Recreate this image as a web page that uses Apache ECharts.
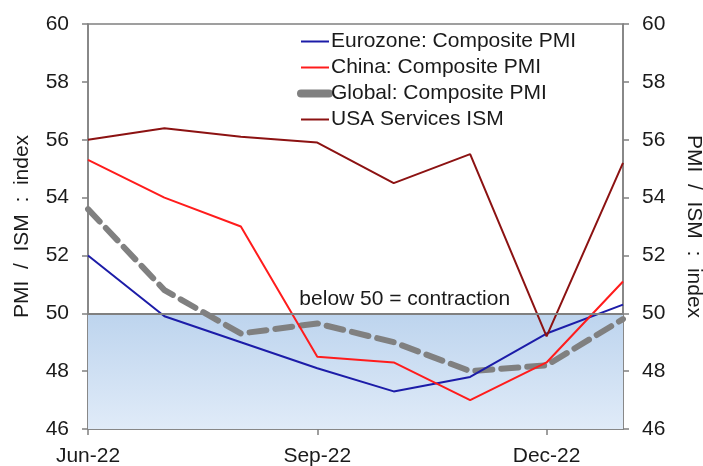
<!DOCTYPE html>
<html>
<head>
<meta charset="utf-8">
<script src="https://cdn.jsdelivr.net/npm/echarts@6/dist/echarts.min.js"></script>
<style>
html,body{margin:0;padding:0;background:#fff;}
#main{width:703px;height:466px;}
</style>
</head>
<body>
<div id="main"></div>
<script>
var months = ['Jun-22','Jul-22','Aug-22','Sep-22','Oct-22','Nov-22','Dec-22','Jan-23'];
var eurozone = [52.0, 49.9, 49.0, 48.1, 47.3, 47.8, 49.3, 50.3];
var china    = [55.3, 54.0, 53.0, 48.5, 48.3, 47.0, 48.3, 51.1];
var global   = [53.6, 50.8, 49.3, 49.65, 49.0, 48.0, 48.2, 49.8];
var usa      = [56.0, 56.4, 56.1, 55.9, 54.5, 55.5, 49.2, 55.2];
var yTicks = {min: 46, max: 60, interval: 2};
var threshold = 50;

var FONT = 'Liberation Sans, Arial, sans-serif';
var TXT = '#1a1a1a';
var AX = '#808080';

var chart = echarts.init(document.getElementById('main'), null, {renderer: 'canvas'});

function yAxisCfg(pos) {
  return {
    type: 'value', position: pos,
    min: yTicks.min, max: yTicks.max, interval: yTicks.interval,
    name: 'PMI  /  ISM  :  index', nameLocation: 'middle',
    nameGap: pos === 'left' ? 55 : 60,
    nameRotate: pos === 'left' ? 90 : -90,
    nameTextStyle: {fontFamily: FONT, fontSize: 21, color: TXT},
    axisLine: {show: true, lineStyle: {color: AX, width: 1.5}},
    axisTick: {show: true, length: 6, lineStyle: {color: AX, width: 1.5}},
    axisLabel: {fontFamily: FONT, fontSize: 21, color: TXT, margin: 19},
    splitLine: {show: false}
  };
}

chart.setOption({
  animation: false,
  backgroundColor: '#fff',
  grid: {left: 88, right: 80, top: 24, bottom: 37, outerBoundsMode: 'none', containLabel: false,
         show: true, borderColor: AX, borderWidth: 1.5, backgroundColor: 'transparent'},
  legend: {
    orient: 'vertical', left: 292, top: 26,
    itemWidth: 28, itemHeight: 10, itemGap: 5,
    itemStyle: {color: 'transparent', borderColor: 'transparent', borderWidth: 0},
    textStyle: {fontFamily: FONT, fontSize: 21, color: TXT, padding: [0,0,0,-3]},
    data: [
      {name: 'Eurozone: Composite PMI'},
      {name: 'China: Composite PMI'},
      {name: 'Global: Composite PMI', lineStyle: {type: 'solid', cap: 'round', width: 8}},
      {name: 'USA Services ISM'}
    ]
  },
  xAxis: {
    type: 'category', data: months, boundaryGap: false,
    axisLine: {show: true, lineStyle: {color: AX, width: 1.5}},
    axisTick: {show: true, interval: 2, length: 6, lineStyle: {color: AX, width: 1.5}},
    axisLabel: {interval: 2, fontFamily: FONT, fontSize: 21, color: TXT, margin: 17},
    splitLine: {show: false}
  },
  yAxis: [yAxisCfg('left'), yAxisCfg('right')],
  series: [
    {
      name: 'zone', type: 'line', data: [], z: 1, silent: true,
      markArea: {
        silent: true,
        itemStyle: {
          color: {type: 'linear', x: 0, y: 0, x2: 0, y2: 1, colorStops: [
            {offset: 0, color: '#bdd4ee'}, {offset: 1, color: '#e0ebf8'}]}
        },
        data: [[{yAxis: threshold}, {yAxis: yTicks.min}]]
      },
      markLine: {
        silent: true, symbol: 'none',
        lineStyle: {color: AX, width: 2, type: 'solid'},
        label: {show: false},
        data: [{yAxis: threshold}]
      }
    },
    {
      name: 'Eurozone: Composite PMI', type: 'line', data: eurozone, z: 3,
      showSymbol: false, symbol: 'none', color: '#1c1ca8',
      lineStyle: {width: 2, color: '#1c1ca8'},
      markPoint: {
        silent: true, symbol: 'circle', symbolSize: 0,
        label: {show: true, formatter: 'below 50 = contraction', fontFamily: FONT, fontSize: 21, color: TXT, offset: [11, -14]},
        data: [{coord: ['Oct-22', threshold]}]
      }
    },
    {
      name: 'China: Composite PMI', type: 'line', data: china, z: 3,
      showSymbol: false, symbol: 'none', color: '#ff1c1c',
      lineStyle: {width: 2, color: '#ff1c1c'}
    },
    {
      name: 'Global: Composite PMI', type: 'line', data: global, z: 2,
      showSymbol: false, symbol: 'none', color: '#808080',
      lineStyle: {width: 6, color: '#808080', type: [17, 9], cap: 'round'}
    },
    {
      name: 'USA Services ISM', type: 'line', data: usa, z: 3,
      showSymbol: false, symbol: 'none', color: '#8c1212',
      lineStyle: {width: 2, color: '#8c1212'}
    }
  ]
});
</script>
</body>
</html>
